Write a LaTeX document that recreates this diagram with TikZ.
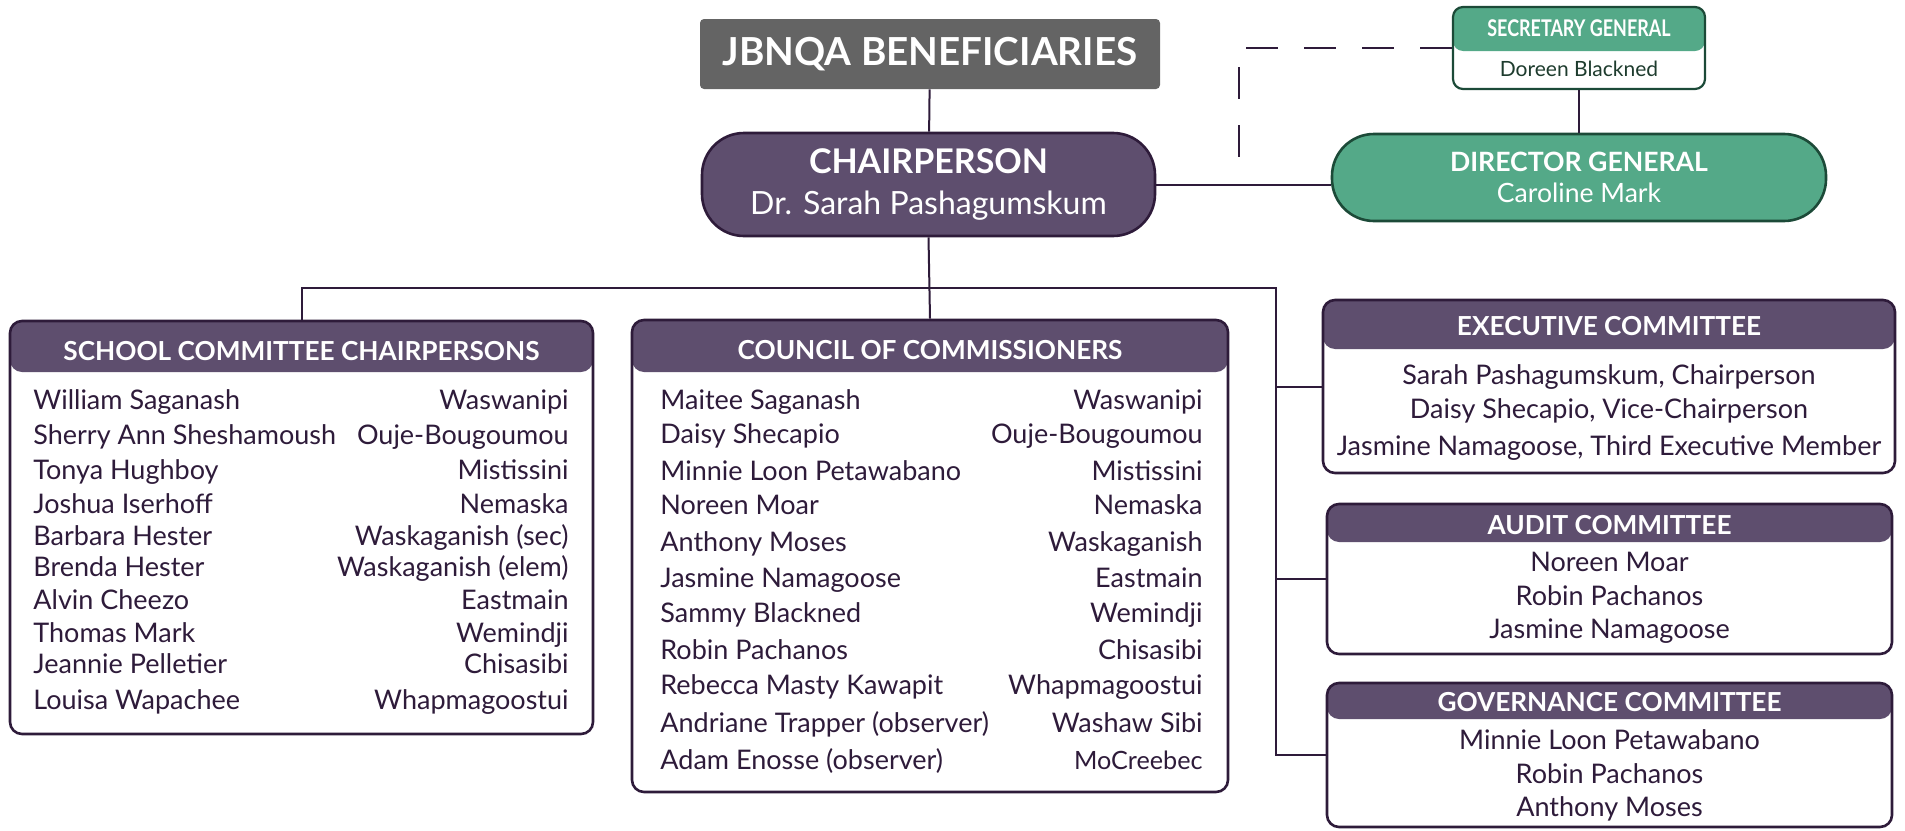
\documentclass[tikz,border=0pt]{standalone}
\usepackage{fontspec}
\setmainfont{Lato}
\newfontfamily\condfont{Lato}[FakeStretch=0.78]
\usetikzlibrary{positioning}

\definecolor{hdrpurple}{RGB}{94,78,110}
\definecolor{inkpurple}{RGB}{46,27,58}
\definecolor{boxgray}{RGB}{100,100,100}
\definecolor{dgreen}{RGB}{84,169,136}
\definecolor{greenline}{RGB}{28,74,56}
\definecolor{greenink}{RGB}{30,60,46}

\tikzset{
  conn/.style={draw=inkpurple, line width=1pt},
  dashconn/.style={conn, dash pattern=on 16pt off 13pt},
  listbox/.style={draw=inkpurple, line width=1.3pt, fill=white, rounded corners=6pt,
    path picture={\fill[hdrpurple] (path picture bounding box.north west) rectangle ([yshift=-#1]path picture bounding box.north east);}},
  secbox/.style={draw=greenline, line width=1.1pt, fill=white, rounded corners=5pt,
    path picture={\fill[dgreen] (path picture bounding box.north west) rectangle ([yshift=-#1]path picture bounding box.north east);}},
  pill/.style={line width=1.3pt, rounded corners=21pt, text=white, align=center},
  hdrtext/.style={text=white, inner sep=0pt, font=\bfseries\fontsize{13.1}{16}\selectfont},
  item/.style={text=inkpurple, inner sep=0pt, yshift=-2.5pt, font=\fontsize{13.5}{16}\selectfont},
}

\begin{document}
\begin{tikzpicture}[x=0.5pt, y=-0.5pt]
  \useasboundingbox (0,0) rectangle (1905,830);

  % top of the chart
  \node[fill=boxgray, rounded corners=2pt, minimum width=230pt, minimum height=35pt, text=white,
        font=\bfseries\fontsize{19.3}{22}\selectfont] (jbnqa) at (930,54) {JBNQA BENEFICIARIES};
  \node[pill, draw=inkpurple, fill=hdrpurple, minimum width=226.5pt, minimum height=51.5pt,
        font=\fontsize{16}{20.5}\selectfont] (chair) at (928.5,184.5)
        {{\bfseries\fontsize{17}{20.5}\selectfont CHAIRPERSON}\\Dr. Sarah Pashagumskum};
  \node[pill, draw=greenline, fill=dgreen, minimum width=247pt, minimum height=43.5pt,
        font=\fontsize{13.3}{15.5}\selectfont] (dg) at (1579,177.5)
        {{\bfseries DIRECTOR GENERAL}\\Caroline Mark};
  \node[secbox=22pt, minimum width=126pt, minimum height=41pt] (sec) at (1579,48) {};
  \node[text=white, inner sep=0pt, font=\condfont\bfseries\fontsize{11.5}{13}\selectfont] (sec-h) at (1579,28) {SECRETARY GENERAL};
  \node[text=greenink, inner sep=0pt, font=\fontsize{10.5}{12}\selectfont] (sec-n) at (1579,69) {Doreen Blackned};

  % committee boxes
  \node[listbox=25.5pt, minimum width=291.5pt, minimum height=206.5pt] (school) at (301.5,527.5) {};
  \node[listbox=26pt, minimum width=298pt, minimum height=236pt] (council) at (930,556) {};
  \node[listbox=24.5pt, minimum width=286pt, minimum height=86.5pt] (exec) at (1609,386.5) {};
  \node[listbox=19pt, minimum width=282.5pt, minimum height=75pt] (audit) at (1609.5,579) {};
  \node[listbox=18pt, minimum width=282.5pt, minimum height=72pt] (gov) at (1609.5,755) {};

  \node[hdrtext] (school-h) at (301.5,351) {SCHOOL COMMITTEE CHAIRPERSONS};
  \node[hdrtext] (council-h) at (930,350) {COUNCIL OF COMMISSIONERS};
  \node[hdrtext] (exec-h) at (1609,326) {EXECUTIVE COMMITTEE};
  \node[hdrtext] (audit-h) at (1609.5,525) {AUDIT COMMITTEE};
  \node[hdrtext] (gov-h) at (1609.5,702) {GOVERNANCE COMMITTEE};

  \foreach \nm/\pl/\yy [count=\i] in {William Saganash/Waswanipi/399,
      Sherry Ann Sheshamoush/Ouje-Bougoumou/434, Tonya Hughboy/Mistissini/469,
      Joshua Iserhoff/Nemaska/503, Barbara Hester/Waskaganish (sec)/535,
      Brenda Hester/Waskaganish (elem)/566, Alvin Cheezo/Eastmain/599,
      Thomas Mark/Wemindji/632, Jeannie Pelletier/Chisasibi/663,
      Louisa Wapachee/Whapmagoostui/699} {
    \node[item, anchor=mid west] (sc-n\i) at (33,\yy) {\nm};
    \node[item, anchor=mid east] (sc-p\i) at (569,\yy) {\pl};
  }
  \foreach \nm/\pl/\yy [count=\i] in {Maitee Saganash/Waswanipi/399,
      Daisy Shecapio/Ouje-Bougoumou/433, Minnie Loon Petawabano/Mistissini/470,
      Noreen Moar/Nemaska/504, Anthony Moses/Waskaganish/541,
      Jasmine Namagoose/Eastmain/577, Sammy Blackned/Wemindji/612,
      Robin Pachanos/Chisasibi/649, Rebecca Masty Kawapit/Whapmagoostui/684,
      Andriane Trapper (observer)/Washaw Sibi/722,
      Adam Enosse (observer)/{\fontsize{12.6}{15}\selectfont MoCreebec}/759} {
    \node[item, anchor=mid west] (cc-n\i) at (660,\yy) {\nm};
    \node[item, anchor=mid east] (cc-p\i) at (1203,\yy) {\pl};
  }
  \foreach \nm/\yy [count=\i] in {{Sarah Pashagumskum, Chairperson}/374,
      {Daisy Shecapio, Vice-Chairperson}/408, {Jasmine Namagoose, Third Executive Member}/445}
    \node[item, anchor=mid] (ex-\i) at (1609,\yy) {\nm};
  \foreach \nm/\yy [count=\i] in {Noreen Moar/561, Robin Pachanos/595, Jasmine Namagoose/628}
    \node[item, anchor=mid] (au-\i) at (1609.5,\yy) {\nm};
  \foreach \nm/\yy [count=\i] in {Minnie Loon Petawabano/739, Robin Pachanos/773, Anthony Moses/806}
    \node[item, anchor=mid] (gv-\i) at (1609.5,\yy) {\nm};

  % connectors
  \coordinate (busR) at (1276,288);
  \coordinate (dashfoot) at (1239,182);
  \draw[conn] (jbnqa) -- (chair);
  \draw[conn] (chair.east) -- (chair.east -| dg.west);
  \draw[conn] (sec) -- (dg);
  \draw[dashconn] (sec.west) -| (dashfoot);
  \draw[conn] (chair.south) -- (council.north);
  \draw[conn] (school.north) |- (busR) |- (gov.west);
  \draw[conn] (busR |- exec.west) -- (exec.west);
  \draw[conn] (busR |- audit.west) -- (audit.west);
\end{tikzpicture}
\end{document}
